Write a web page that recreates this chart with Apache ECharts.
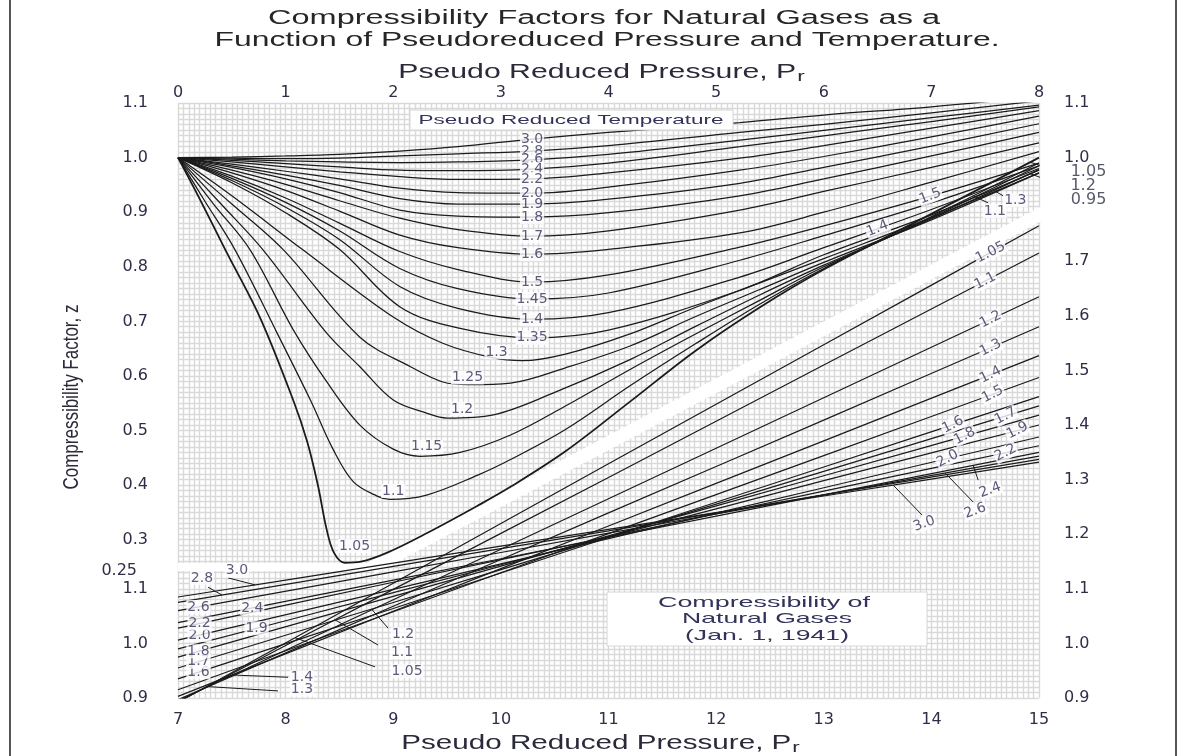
<!DOCTYPE html>
<html><head><meta charset="utf-8">
<script src="https://cdn.jsdelivr.net/npm/echarts@6/dist/echarts.min.js"></script>
<style>html,body{margin:0;padding:0;background:#fff}#c{width:1186px;height:756px}</style>
</head><body><div id="c"></div>
<script>
// ================= DATA =================
// tick labels
const topPrTicks = [0,1,2,3,4,5,6,7,8];
const bottomPrTicks = [7,8,9,10,11,12,13,14,15];
const zLeftUpperTicks = [0.25,0.3,0.4,0.5,0.6,0.7,0.8,0.9,1.0,1.1];
const zLeftLowerTicks = [0.9,1.0,1.1];
const zRightLowerTicks = [0.9,1.0,1.1,1.2,1.3,1.4,1.5,1.6,1.7];
const zRightUpperTicks = [1.0,1.1];

// ---- low-pressure family (Pr 0-8, top axis, left z scale) ----
const prHi = [0, 0.5, 1, 1.5, 2.06, 2.6, 3.29, 4, 5.22, 6, 7, 8];
const zT30  = [1.000,1.001,1.003,1.006,1.012,1.020,1.034,1.046,1.064,1.078,1.093,1.112];
const zT28  = [1.000,0.999,0.998,0.999,1.003,1.007,1.012,1.022,1.046,1.061,1.082,1.104];
const zT26  = [1.000,0.997,0.994,0.992,0.991,0.992,0.996,1.006,1.032,1.050,1.073,1.096];
const zT24  = [1.000,0.995,0.989,0.983,0.977,0.976,0.979,0.990,1.020,1.040,1.066,1.093];
const zT22  = [1.000,0.992,0.983,0.974,0.965,0.960,0.961,0.972,0.999,1.022,1.054,1.086];
const zT20  = [1.000,0.988,0.975,0.961,0.944,0.936,0.935,0.946,0.977,1.002,1.038,1.076];
const zT19  = [1.000,0.985,0.968,0.949,0.925,0.915,0.915,0.924,0.953,0.982,1.021,1.062];
const zT18  = [1.000,0.982,0.961,0.936,0.904,0.893,0.891,0.899,0.930,0.961,1.003,1.046];
const zT17  = [1.000,0.977,0.951,0.921,0.889,0.868,0.856,0.866,0.904,0.938,0.982,1.027];
const zT16  = [1.000,0.972,0.940,0.902,0.858,0.835,0.823,0.832,0.862,0.900,0.955,1.011];
const zT15  = [1.000,0.966,0.926,0.880,0.828,0.795,0.772,0.785,0.836,0.875,0.930,0.990];
const zT145 = [1.000,0.962,0.918,0.866,0.797,0.760,0.741,0.752,0.812,0.857,0.917,0.985];
const zT14  = [1.000,0.958,0.909,0.850,0.764,0.724,0.704,0.716,0.781,0.835,0.905,0.980];
const zT135 = [1.000,0.954,0.899,0.832,0.727,0.688,0.670,0.684,0.757,0.822,0.895,0.977];
const prT13  = [0,0.5,1.16,2.0,2.46,2.93,3.2,3.6,4.2,4.8,5.4,6,7,8];
const zT13   = [1.000,0.930,0.831,0.708,0.660,0.633,0.628,0.640,0.677,0.725,0.770,0.815,0.890,0.972];
const prT125 = [0,0.5,0.98,1.69,2.16,2.46,2.7,3.09,3.6,4.2,4.8,5.4,6,7,8];
const zT125  = [1.000,0.915,0.831,0.671,0.617,0.589,0.584,0.587,0.615,0.655,0.708,0.758,0.808,0.886,0.972];
const prT12  = [0,0.4,0.79,1.38,1.69,2.0,2.31,2.5,2.93,3.5,4.2,4.8,5.4,6,7,8];
const zT12   = [1.000,0.915,0.831,0.679,0.617,0.556,0.532,0.523,0.529,0.570,0.630,0.690,0.748,0.803,0.888,0.978];
const prT115 = [0,0.33,0.67,1.07,1.38,1.69,2.0,2.25,2.62,3.09,3.6,4.2,4.8,5.4,6,7,8];
const zT115  = [1.000,0.915,0.831,0.685,0.590,0.510,0.466,0.453,0.460,0.492,0.545,0.612,0.676,0.738,0.800,0.890,0.985];
const prT11  = [0,0.25,0.53,0.92,1.23,1.44,1.63,1.85,1.97,2.31,2.78,3.09,3.6,4.2,4.8,5.4,6,7,8];
const zT11   = [1.000,0.920,0.831,0.679,0.556,0.466,0.406,0.380,0.374,0.382,0.418,0.447,0.502,0.582,0.658,0.731,0.797,0.892,0.990];
const prT105 = [0,0.2,0.44,0.76,1.07,1.2,1.3,1.38,1.45,1.55,1.7,1.95,2.31,2.78,3.09,3.6,4.2,4.8,5.4,6,7,8];
const zT105  = [1.000,0.925,0.831,0.708,0.556,0.480,0.400,0.320,0.276,0.258,0.260,0.277,0.312,0.362,0.397,0.462,0.553,0.645,0.725,0.795,0.897,1.000];

// ---- high-pressure family (Pr 7-15, bottom axis, right z scale) ----
const prLo = [7, 9, 11, 13, 15];
const zL105 = [0.892,1.110,1.329,1.547,1.765];
const zL11  = [0.893,1.099,1.304,1.510,1.715];
const zL12  = [0.895,1.080,1.265,1.450,1.635];
const zL13  = [0.897,1.068,1.239,1.409,1.580];
const zL14  = [0.903,1.059,1.215,1.371,1.527];
const zL15  = [0.915,1.058,1.201,1.344,1.487];
const zL16  = [0.935,1.064,1.194,1.323,1.452];
const zL17  = [0.955,1.075,1.195,1.315,1.435];
const zL18  = [0.975,1.086,1.197,1.307,1.418];
const zL19  = [0.990,1.093,1.195,1.298,1.400];
const zL20  = [1.006,1.099,1.192,1.285,1.378];
const zL22  = [1.028,1.112,1.195,1.279,1.362];
const zL24  = [1.038,1.116,1.194,1.272,1.350];
const zL26  = [1.060,1.131,1.202,1.272,1.343];
const zL28  = [1.075,1.141,1.206,1.272,1.337];
const zL30  = [1.085,1.147,1.209,1.270,1.332];

// curve label placement (Pr where the label sits on the curve)
const upperLabelPr = [3.29,3.29,3.29,3.29,3.29,3.29,3.29,3.29,3.29,3.29,3.29,3.29,3.29,3.29,2.96,2.69,2.64,2.31,2.0,1.64];
const upperLabelDy = [0,0,0,0,0,0,0,0,0,0,0,0,0,0,-6,-7,-8,-9,-8,-16];
const lowerRightLabelPr = [14.55,14.5,14.55,14.55,14.55,14.57,14.2,14.69,14.31,14.8,14.15,14.69,null,null,null,null];
const lowerLeftLabelPr  = [null,null,null,null,null,null,7.19,7.19,7.19,7.73,7.2,7.2,7.69,7.19,null,null];
// leader-line annotations: text, labelPr, labelZ, startPr, startZ, targetPr (on curve), rotate
const upperLeaders = [
  ['1.3', 7.78, 0.922, 7.667, 0.930, 7.593, 0],
  ['1.1', 7.59, 0.902, 7.528, 0.917, 7.388, 0],
  ['1.05', 8.46, 0.974, 8.178, 0.975, 7.918, 0],
  ['1.2', 8.41, 0.948, 8.169, 0.952, 7.918, 0]
];
const lowerLeaders = [
  ['3.0', 7.548, 1.133, 7.465, 1.120, 7.716, 0],
  ['2.8', 7.223, 1.120, 7.279, 1.103, 7.409, 0],
  ['1.4', 8.152, 0.938, 8.022, 0.938, 7.502, 0],
  ['1.3', 8.152, 0.915, 7.929, 0.913, 7.279, 0],
  ['1.05', 9.128, 0.949, 8.831, 0.957, 8.087, 0],
  ['1.1', 9.082, 0.984, 8.859, 0.997, 8.459, 0],
  ['1.2', 9.091, 1.017, 8.952, 1.028, 8.803, 0],
  ['2.4', 14.546, 1.281, 14.435, 1.299, 14.388, 20],
  ['2.6', 14.407, 1.243, 14.388, 1.259, 14.128, 20],
  ['3.0', 13.933, 1.219, 13.914, 1.235, 13.645, 20]
];

// ================= BUILD =================
const upperCurves = [
  ['3.0',prHi,zT30],['2.8',prHi,zT28],['2.6',prHi,zT26],['2.4',prHi,zT24],['2.2',prHi,zT22],
  ['2.0',prHi,zT20],['1.9',prHi,zT19],['1.8',prHi,zT18],['1.7',prHi,zT17],['1.6',prHi,zT16],
  ['1.5',prHi,zT15],['1.45',prHi,zT145],['1.4',prHi,zT14],['1.35',prHi,zT135],['1.3',prT13,zT13],
  ['1.25',prT125,zT125],['1.2',prT12,zT12],['1.15',prT115,zT115],['1.1',prT11,zT11],['1.05',prT105,zT105]
];
const lowerCurves = [
  ['1.05',prLo,zL105],['1.1',prLo,zL11],['1.2',prLo,zL12],['1.3',prLo,zL13],['1.4',prLo,zL14],
  ['1.5',prLo,zL15],['1.6',prLo,zL16],['1.7',prLo,zL17],['1.8',prLo,zL18],['1.9',prLo,zL19],
  ['2.0',prLo,zL20],['2.2',prLo,zL22],['2.4',prLo,zL24],['2.6',prLo,zL26],['2.8',prLo,zL28],['3.0',prLo,zL30]
];
function interp(xs, ys, x){
  for (let i=0;i<xs.length-1;i++){
    if (x>=xs[i] && x<=xs[i+1]){ const t=(x-xs[i])/(xs[i+1]-xs[i]); return ys[i]+t*(ys[i+1]-ys[i]); }
  }
  return x<xs[0]?ys[0]:ys[ys.length-1];
}
function findCurve(list, t){ return list.find(c=>c[0]===t); }

const INK = '#1b1b1b';
const TXT = '#33325a';
const NUMC = '#2e2e48';
const GRIDC = '#d9d9d9';
const UPPER_MIN = 1.1 - 595/546, UPPER_MAX = 1.1;
const LOWER_MIN = 0.9, LOWER_MAX = 0.9 + 595/546;

const series = [];
// white separators (decor)
series.push({type:'line', xAxisIndex:0, yAxisIndex:0, data:[[0,0.25],[1.85,0.25]], symbol:'none', silent:true, z:1,
  lineStyle:{color:'#fff', width:8}, animation:false});
series.push({type:'line', xAxisIndex:1, yAxisIndex:1, data:[[8.80,1.138],[15.1,1.795]], symbol:'none', silent:true, z:1,
  lineStyle:{color:'#fff', width:13}, animation:false});

upperCurves.forEach(([t,xs,ys])=>{
  series.push({type:'line', name:'Tpr '+t, xAxisIndex:0, yAxisIndex:0, data:xs.map((x,i)=>[x,ys[i]]),
    showSymbol:false, symbol:'none', smooth:0.35, silent:true, z:3, animation:false,
    lineStyle:{color:INK, width:(t==='1.05'?1.8:1.25)}});
});
lowerCurves.forEach(([t,xs,ys])=>{
  series.push({type:'line', name:'Tpr '+t+' (high Pr)', xAxisIndex:1, yAxisIndex:1, data:xs.map((x,i)=>[x,ys[i]]),
    showSymbol:false, symbol:'none', smooth:0.2, silent:true, z:3, animation:false,
    lineStyle:{color:INK, width:1.2}});
});

function lbl(text, dy, rot){
  return {show:true, position:'inside', formatter:text, color:TXT, fontSize:14, fontFamily:'"DejaVu Sans", sans-serif',
    backgroundColor:'#fff', padding:[0,1,0,1], offset:[0,dy||0], rotate:rot||0};
}
const upLabelData = [];
upperCurves.forEach(([t,xs,ys],i)=>{
  const p = upperLabelPr[i]; if (p==null) return;
  upLabelData.push({value:[p, interp(xs,ys,p)], label:lbl(t, upperLabelDy[i], 0)});
});
[['1.4',6.5],['1.5',6.99]].forEach(([t,p])=>{
  const c = findCurve(upperCurves,t);
  upLabelData.push({value:[p, interp(c[1],c[2],p)], label:lbl(t,0,22)});
});
upLabelData.push({value:[8.46, 0.922], label:Object.assign(lbl('0.95',0,0),{fontSize:16, color:NUMC, backgroundColor:'transparent'})});
upperLeaders.forEach(([t,lx,lz,sx,sz,tx])=>{
  const c = findCurve(upperCurves,t);
  const outside = lx>8;
  upLabelData.push({value:[lx,lz], label:Object.assign(lbl(t,0,0), outside?{fontSize:16,color:NUMC,backgroundColor:'transparent'}:{})});
  series.push({type:'line', xAxisIndex:0, yAxisIndex:0, data:[[sx,sz],[tx,interp(c[1],c[2],tx)]], symbol:'none', clip:false,
    silent:true, z:4, animation:false, lineStyle:{color:INK,width:1}});
});
const loLabelData = [];
lowerCurves.forEach(([t,xs,ys],i)=>{
  const pr = lowerRightLabelPr[i], pl = lowerLeftLabelPr[i];
  if (pr!=null) loLabelData.push({value:[pr, interp(xs,ys,pr)], label:lbl(t,0,27)});
  if (pl!=null) loLabelData.push({value:[pl, interp(xs,ys,pl)], label:lbl(t,0,0)});
});
lowerLeaders.forEach(([t,lx,lz,sx,sz,tx,rot])=>{
  const c = findCurve(lowerCurves,t);
  loLabelData.push({value:[lx,lz], label:lbl(t,0,rot)});
  series.push({type:'line', xAxisIndex:1, yAxisIndex:1, data:[[sx,sz],[tx,interp(c[1],c[2],tx)]], symbol:'none', clip:false,
    silent:true, z:4, animation:false, lineStyle:{color:INK,width:1}});
});
series.push({type:'scatter', xAxisIndex:0, yAxisIndex:0, data:upLabelData, symbolSize:1, itemStyle:{color:'transparent'},
  clip:false, silent:true, z:6, animation:false});
series.push({type:'scatter', xAxisIndex:1, yAxisIndex:1, data:loLabelData, symbolSize:1, itemStyle:{color:'transparent'},
  clip:false, silent:true, z:6, animation:false});

// ---------- text helpers (stretched typography like the scan) ----------
const FAM = '"Liberation Sans", Arial, sans-serif';
const mctx = document.createElement('canvas').getContext('2d');
function measure(text, px){ mctx.font = px+'px '+FAM; return mctx.measureText(text).width; }
function gText(text, cx, cy, px, targetW, color, extra){
  const s = targetW / measure(text, px);
  return Object.assign({type:'text', x:cx, y:cy, scaleX:s, z:100, silent:true,
    style:{text:text, font:px+'px '+FAM, fill:color, textAlign:'center', textVerticalAlign:'middle', align:'center', verticalAlign:'middle'}}, extra||{});
}
function prName(cy, cx, targetW){
  const main = 'Pseudo Reduced Pressure, P', px = 20;
  const s = targetW / measure(main+'r', px);
  const wMain = measure(main, px)*s;
  const wSub = measure('r', 15)*s;
  const x0 = cx - (wMain+wSub)/2;
  return [
    {type:'text', x:x0, y:cy, scaleX:s, z:100, silent:true, style:{text:main, font:px+'px '+FAM, fill:'#2a2a3a', textAlign:'left', textVerticalAlign:'middle', align:'left', verticalAlign:'middle'}},
    {type:'text', x:x0+wMain+1, y:cy+5, scaleX:s, z:100, silent:true, style:{text:'r', font:'15px '+FAM, fill:'#2a2a3a', textAlign:'left', textVerticalAlign:'middle', align:'left', verticalAlign:'middle'}}
  ];
}
const yName = 'Compressibility Factor, z';
const graphic = [
  {type:'line', shape:{x1:10,y1:0,x2:10,y2:756}, style:{stroke:'#555',lineWidth:2}, silent:true, z:100},
  {type:'line', shape:{x1:1176,y1:0,x2:1176,y2:756}, style:{stroke:'#555',lineWidth:2}, silent:true, z:100},
  gText('Compressibility Factors for Natural Gases as a', 604, 18, 20, 672, '#262626'),
  gText('Function of Pseudoreduced Pressure and Temperature.', 607, 40, 20, 785, '#262626'),
  ...prName(72, 601, 408),
  ...prName(743, 600, 400),
  {type:'text', x:72, y:397, rotation:Math.PI/2, scaleX:185/measure(yName,17), scaleY:1.35, z:100, silent:true,
    style:{text:yName, font:'17px '+FAM, fill:'#2a2a3a', textAlign:'center', textVerticalAlign:'middle', align:'center', verticalAlign:'middle'}},
  {type:'rect', shape:{x:410,y:110,width:323,height:20}, style:{fill:'#fff', stroke:'#d6d6d6', lineWidth:1}, z:99, silent:true},
  gText('Pseudo Reduced Temperature', 571, 120, 13, 305, TXT),
  {type:'rect', shape:{x:607,y:592,width:320,height:54}, style:{fill:'#fff', stroke:'#d6d6d6', lineWidth:1}, z:99, silent:true},
  gText('Compressibility of', 764, 603, 15, 212, TXT),
  gText('Natural Gases', 767, 619, 15, 170, TXT),
  gText('(Jan. 1, 1941)', 767, 636, 15, 164, TXT)
];

const numLabel = {color:NUMC, fontSize:16, fontFamily:'"DejaVu Sans", sans-serif'};
const hidden = {axisLine:{show:false}, axisTick:{show:false}, splitLine:{show:false}};
const option = {
  backgroundColor:'#fff',
  animation:false,
  grid:{left:178, right:147, top:103, bottom:58, containLabel:false},
  xAxis:[
    Object.assign({type:'value', position:'top', min:0, max:8, interval:1,
      axisLabel:Object.assign({customValues:topPrTicks, margin:2}, numLabel)}, hidden),
    Object.assign({type:'value', position:'bottom', min:7, max:15, interval:1,
      axisLabel:Object.assign({customValues:bottomPrTicks, margin:14}, numLabel)}, hidden),
    {type:'value', position:'bottom', min:0, max:8, interval:0.05, axisLine:{show:false}, axisTick:{show:false},
      axisLabel:{show:false}, splitLine:{show:true, lineStyle:{color:GRIDC, width:1.4}}}
  ],
  yAxis:[
    Object.assign({type:'value', position:'left', min:UPPER_MIN, max:UPPER_MAX,
      axisLabel:Object.assign({customValues:zLeftUpperTicks, margin:30,
        formatter:v=>Math.abs(v-0.25)<1e-6?'{p|0.25}':v.toFixed(1),
        rich:{p:Object.assign({padding:[8,11,0,0]}, numLabel)}}, numLabel)}, hidden),
    Object.assign({type:'value', position:'left', min:LOWER_MIN, max:LOWER_MAX,
      axisLabel:Object.assign({customValues:zLeftLowerTicks, margin:30, formatter:v=>v.toFixed(1)}, numLabel)}, hidden),
    Object.assign({type:'value', position:'right', min:LOWER_MIN, max:LOWER_MAX,
      axisLabel:Object.assign({customValues:zRightLowerTicks, margin:25, formatter:v=>v.toFixed(1)}, numLabel)}, hidden),
    Object.assign({type:'value', position:'right', min:UPPER_MIN, max:UPPER_MAX,
      axisLabel:Object.assign({customValues:zRightUpperTicks, margin:25, formatter:v=>v.toFixed(1)}, numLabel)}, hidden),
    {type:'value', position:'left', min:LOWER_MIN, max:LOWER_MAX, interval:0.01, axisLine:{show:false}, axisTick:{show:false},
      axisLabel:{show:false}, splitLine:{show:true, lineStyle:{color:GRIDC, width:1.4}}}
  ],
  series:series,
  graphic:graphic
};
const chart = echarts.init(document.getElementById('c'));
chart.setOption(option);
</script>
</body></html>
